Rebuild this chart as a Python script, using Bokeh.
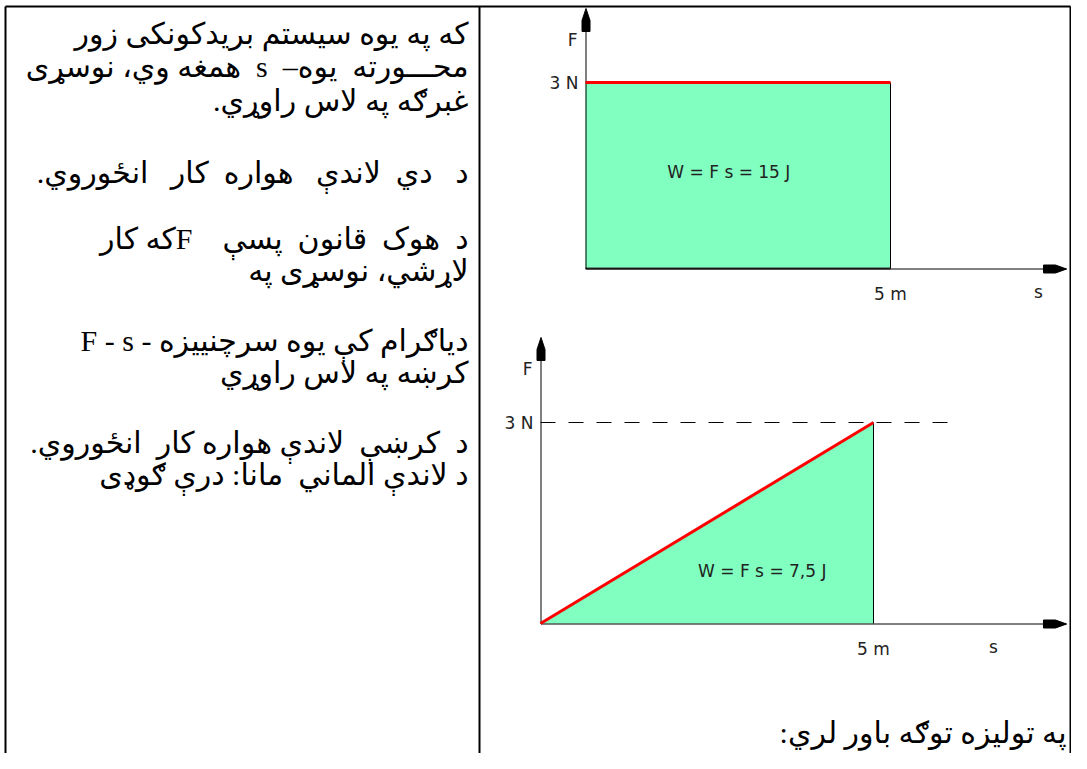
from bokeh.plotting import figure
from bokeh.models import Range1d
from bokeh.core.properties import value
from bokeh.embed import file_html
from bokeh.resources import INLINE

# ---------------- data ----------------
s_const = [0, 5]          # s in m, constant force case
F_const = [3, 3]          # F in N
s_lin = [0, 5]            # s in m, Hooke (linear) case
F_lin = [0, 3]            # F in N
s_tick = 5
F_tick = 3
s_tick_label = "5 m"
F_tick_label = "3 N"
F_axis_label = "F"
s_axis_label = "s"
W_const_label = "W = F s = 15 J"
W_lin_label = "W = F s = 7,5 J"

RLM = "\u200f"
LRM = "\u200e"
NB = "\u00a0"
left_lines = [
    "که په یوه سیستم بریدکونکی زور",
    LRM + "همغه وي، نوسړی" + NB + " s" + NB + " –محـــورته" + NB + " یوه",
    "غبرګه په لاس راوړي." + RLM,
    "د" + NB * 2 + " دي" + NB + " لاندې" + NB * 2 + " هواره" + NB + " کار" + NB * 2 + " انځوروي." + RLM,
    LRM + "که کارF" + NB * 4 + "د" + NB + " هوک" + NB + " قانون" + NB + " پسې",
    "لاړشي، نوسړی په",
    "F - s - دیاګرام کې یوه سرچنییزه",
    "کرښه په لاس راوړي",
    "د" + NB + " کرښې" + NB + " لاندې هواره کار" + NB + " انځوروي." + RLM,
    "د لاندې الماني" + NB + " مانا: درې ګوډی",
]
right_caption = "په تولیزه توګه باور لري:" + RLM

# ---------------- layout (picture pixels) ----------------
W, H = 1071, 753
left_line_y = [33, 66, 100, 172, 238, 270, 340, 372, 442, 474]
left_text_right = 468
MINT = "#80FFC0"
RED = "#FF0000"

p = figure(width=W, height=H, output_backend="svg", toolbar_location=None,
           x_range=Range1d(0, W), y_range=Range1d(H, 0),
           min_border=0, x_axis_location=None, y_axis_location=None,
           outline_line_color=None, background_fill_color="white",
           border_fill_color="white")
p.xgrid.visible = False
p.ygrid.visible = False

# panels: origin pixel, pixel of s_tick, pixel of F_tick, arrow tip top, x-axis end
panels = {
    "p1": dict(ox=585, oy=268, xs=890, yF=82, top=8, xend=1066),
    "p2": dict(ox=540, oy=623, xs=873, yF=422, top=337, xend=1066),
}
ex, ey = {}, {}
for name, g in panels.items():
    sx = (g["xs"] - g["ox"]) / s_tick
    sy = (g["oy"] - g["yF"]) / F_tick
    ex[name] = Range1d((0 - g["ox"]) / sx, (W - g["ox"]) / sx)
    ey[name] = Range1d((g["oy"] - H) / sy, g["oy"] / sy)
p.extra_x_ranges = ex
p.extra_y_ranges = ey

# ---------------- table borders ----------------
p.segment(x0=[5, 479, 1070, 5], y0=[6, 6, 6, 6], x1=[5, 479, 1070, 1070],
          y1=[H, H, H, 6], line_color="black", line_width=2)

# ---------------- panel 1: constant force ----------------
k1 = dict(x_range_name="p1", y_range_name="p1")
p.quad(left=s_const[0], right=s_const[-1], bottom=0, top=F_const[0],
       fill_color=MINT, line_color=None, **k1)
p.segment(x0=s_const[-1], y0=0, x1=s_const[-1], y1=F_const[-1],
          line_color="black", line_width=1, **k1)
p.segment(x0=s_const[0], y0=0, x1=s_const[-1], y1=0,
          line_color="#333333", line_width=2, **k1)

# ---------------- panel 2: linear force ----------------
k2 = dict(x_range_name="p2", y_range_name="p2")
p.varea(x=s_lin, y1=[0] * len(s_lin), y2=F_lin, fill_color=MINT, **k2)
p.segment(x0=s_lin[-1], y0=0, x1=s_lin[-1], y1=F_lin[-1],
          line_color="black", line_width=1, **k2)
p.segment(x0=0, y0=F_tick, x1=6.15, y1=F_tick, line_color="black",
          line_width=1, line_dash="15 13", **k2)

# ---------------- axes with arrows (picture pixels) ----------------
for name, g in panels.items():
    ox, oy = g["ox"] + 0.5, g["oy"] + 0.5
    p.segment(x0=[ox, ox], y0=[oy, oy], x1=[ox, g["xend"]], y1=[g["top"] + 4, oy],
              line_color="black", line_width=1)
    t = g["top"]
    p.patch([ox, ox + 4, ox + 4, ox - 4, ox - 4],
            [t, t + 12, t + 23, t + 23, t + 12], color="black")
    e = g["xend"]
    p.patch([e, e - 11, e - 23, e - 23, e - 11],
            [oy, oy - 4, oy - 4, oy + 4, oy + 4], color="black")

# red force lines on top
p.line(s_const, F_const, line_color=RED, line_width=3, **k1)
p.line(s_lin, F_lin, line_color=RED, line_width=3, **k2)

# ---------------- diagram texts ----------------
dfont = value("DejaVu Sans")
dcol = "#222222"
dsize = "17px"
for name, g, wl, wpos in (("p1", panels["p1"], W_const_label, (2.35, 1.55)),
                          ("p2", panels["p2"], W_lin_label, (3.33, 0.78))):
    kk = dict(x_range_name=name, y_range_name=name)
    p.text(x=[0], y=[F_tick], text=[F_tick_label], text_align="right",
           text_baseline="middle", x_offset=-7, text_font=dfont,
           text_font_size=dsize, text_color=dcol, **kk)
    p.text(x=[s_tick], y=[0], text=[s_tick_label], text_align="center",
           text_baseline="middle", y_offset=25, text_font=dfont,
           text_font_size=dsize, text_color=dcol, **kk)
    p.text(x=[wpos[0]], y=[wpos[1]], text=[wl], text_align="center",
           text_baseline="middle", text_font=dfont, text_font_size=dsize,
           text_color=dcol, **kk)
    p.text(x=[g["ox"] - 8], y=[g["top"] + 31], text=[F_axis_label],
           text_align="right", text_baseline="middle", text_font=dfont,
           text_font_size=dsize, text_color=dcol)
    p.text(x=[g["ox"] + 453], y=[g["oy"] + 23], text=[s_axis_label],
           text_align="center", text_baseline="middle", text_font=dfont,
           text_font_size=dsize, text_color=dcol)

# ---------------- Pashto texts ----------------
tfont = value("'Liberation Serif', 'DejaVu Sans'")
p.text(x=[left_text_right] * len(left_lines), y=left_line_y, text=left_lines,
       text_align="right", text_baseline="middle", text_font=tfont,
       text_font_size="30px", text_color="black")
p.text(x=[1066], y=[732], text=[right_caption], text_align="right",
       text_baseline="middle", text_font=tfont, text_font_size="30px",
       text_color="black")

open("out.html", "w").write(file_html(p, INLINE))
